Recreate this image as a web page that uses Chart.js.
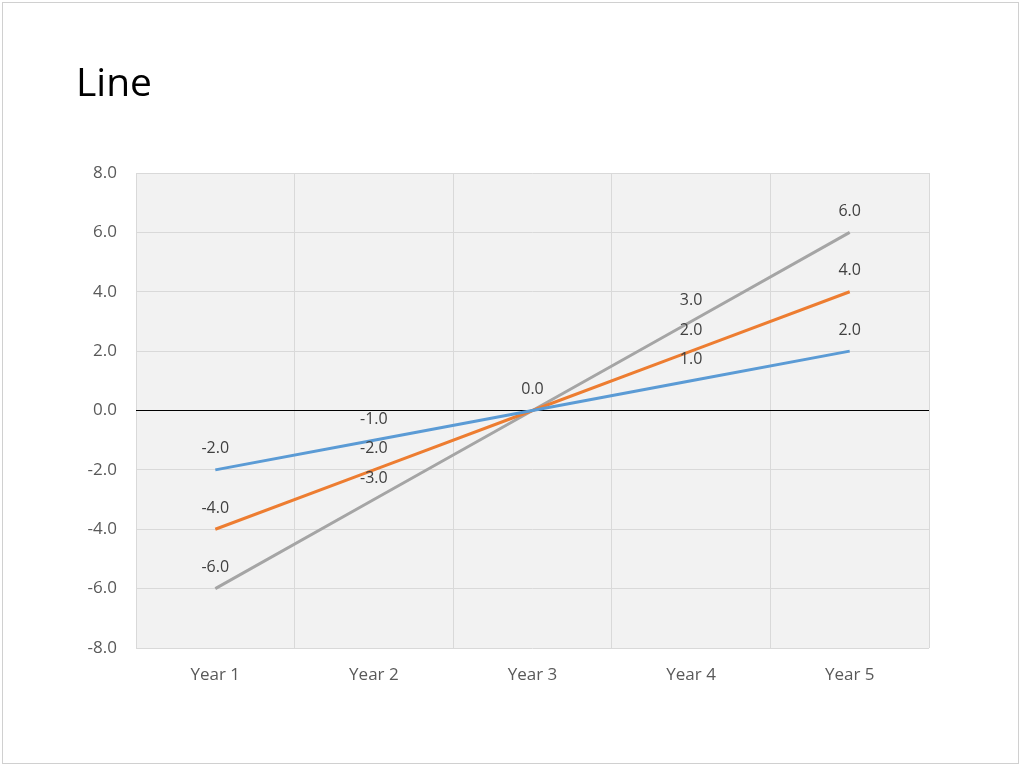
<!DOCTYPE html>
<html>
<head>
<meta charset="utf-8">
<script src="https://cdn.jsdelivr.net/npm/chart.js@4/dist/chart.umd.min.js"></script>
<style>
  html, body { margin: 0; padding: 0; background: #fff; }
  #wrap { position: relative; width: 1024px; height: 769px; }
  #frame { position: absolute; left: 2px; top: 2px; width: 1017px; height: 762px; border: 1px solid #d0d0d0; box-sizing: border-box; pointer-events: none; }
  #title { position: absolute; left: 76px; top: 54px; font-family: 'Open Sans', sans-serif; font-size: 39px; color: #000; }
</style>
</head>
<body>
<div id="wrap">
  <canvas id="lineChart" width="1024" height="769"></canvas>
  <div id="frame"></div>
  <div id="title">Line</div>
</div>
<script>
'use strict';

const categories = ['Year 1', 'Year 2', 'Year 3', 'Year 4', 'Year 5'];
const series1 = [-2, -1, 0, 1, 2];
const series2 = [-4, -2, 0, 2, 4];
const series3 = [-6, -3, 0, 3, 6];
const yMin = -8;
const yMax = 8;
const yStep = 2;

Chart.defaults.font.family = "'Open Sans', sans-serif";
Chart.defaults.color = '#595959';

// gray plot background
const plotBg = {
  id: 'plotBg',
  beforeDraw(chart) {
    const { ctx, chartArea: a } = chart;
    ctx.save();
    ctx.fillStyle = '#f2f2f2';
    ctx.fillRect(a.left, a.top, a.right - a.left, a.bottom - a.top);
    ctx.restore();
  }
};

// value labels above each point (overlapping duplicates drawn once)
const valueLabels = {
  id: 'valueLabels',
  afterDatasetsDraw(chart) {
    const ctx = chart.ctx;
    const seen = new Set();
    ctx.save();
    ctx.font = "16px 'Open Sans', sans-serif";
    ctx.fillStyle = '#404040';
    ctx.textAlign = 'center';
    ctx.textBaseline = 'middle';
    chart.data.datasets.forEach((ds, i) => {
      chart.getDatasetMeta(i).data.forEach((pt, j) => {
        const key = Math.round(pt.x) + ':' + Math.round(pt.y);
        if (seen.has(key)) return;
        seen.add(key);
        ctx.fillText(ds.data[j].toFixed(1), pt.x, pt.y - 21);
      });
    });
    ctx.restore();
  }
};

new Chart(document.getElementById('lineChart').getContext('2d'), {
  type: 'line',
  data: {
    labels: categories,
    datasets: [
      { label: 'Series 1', data: series1, borderColor: '#5b9bd5', borderWidth: 3, pointRadius: 0, tension: 0 },
      { label: 'Series 2', data: series2, borderColor: '#ed7d31', borderWidth: 3, pointRadius: 0, tension: 0 },
      { label: 'Series 3', data: series3, borderColor: '#a5a5a5', borderWidth: 3, pointRadius: 0, tension: 0 }
    ]
  },
  options: {
    responsive: false,
    animation: false,
    layout: { padding: { top: 173, right: 95, left: 0, bottom: 0 } },
    plugins: { legend: { display: false }, tooltip: { enabled: false } },
    scales: {
      x: {
        offset: true,
        grid: { offset: true, color: '#d9d9d9', lineWidth: 1, drawTicks: false },
        border: { display: false },
        ticks: { padding: 17, font: { size: 17 }, color: '#595959' },
        afterFit: s => { s.height = 121; }
      },
      y: {
        min: yMin,
        max: yMax,
        grid: {
          drawTicks: false,
          color: c => (c.tick && c.tick.value === 0 ? '#000000' : '#d9d9d9'),
          lineWidth: 1
        },
        border: { display: false },
        ticks: { stepSize: yStep, padding: 19, font: { size: 17 }, color: '#595959', callback: v => v.toFixed(1) },
        afterFit: s => { s.width = 136; }
      }
    }
  },
  plugins: [plotBg, valueLabels]
});
</script>
</body>
</html>
